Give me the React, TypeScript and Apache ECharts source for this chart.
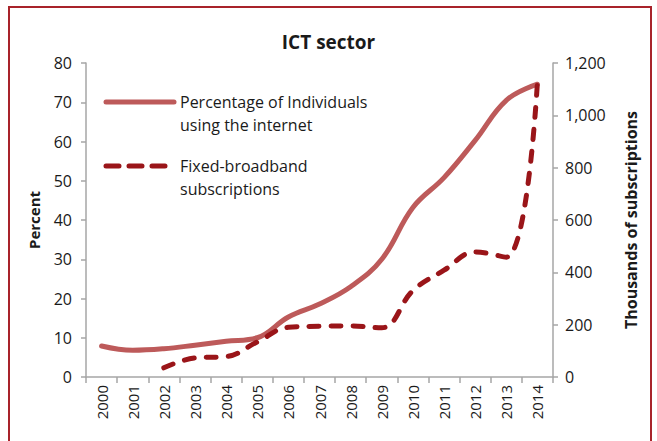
import React, { useEffect, useRef } from "react";
import * as echarts from "echarts";

const years = ["2000", "2001", "2002", "2003", "2004", "2005", "2006", "2007", "2008", "2009", "2010", "2011", "2012", "2013", "2014"];
const internetPct = [7.9, 6.8, 7.2, 8.1, 9.1, 10.0, 15.3, 18.6, 23.0, 30.0, 43.2, 50.8, 60.3, 70.5, 74.6];
const broadbandK = [null, null, 35, 73, 78, 134, 190, 194, 195, 188, 330, 408, 478, 458, 1127];
const seriesNames = ["Percentage of Individuals\nusing the internet", "Fixed-broadband\nsubscriptions"];
const titleText = "ICT sector";
const leftAxisName = "Percent";
const rightAxisName = "Thousands of subscriptions";

const FONT = "'Open Sans', Lato, sans-serif";
const SOLID = "#bd5a5a";
const DASH = "#9a1519";
const AXIS = "#a6a6a6";
const TEXT = "#1a1a1a";

export default function App() {
  const ref = useRef<HTMLDivElement>(null);
  useEffect(() => {
    document.body.style.margin = "0";
    const chart = echarts.init(ref.current!, null, { renderer: "svg" });
    const axisCommon = {
      axisLine: { show: true, lineStyle: { color: AXIS, width: 1.5 } },
      axisTick: { show: true, length: 5, lineStyle: { color: AXIS, width: 1.5 } },
      splitLine: { show: false },
    };
    chart.setOption({
      animation: false,
      backgroundColor: "#fff",
      title: {
        text: titleText,
        left: "center",
        top: 27,
        textStyle: { fontFamily: FONT, fontSize: 19, fontWeight: "bold", color: TEXT },
      },
      grid: { left: 86, right: 104, top: 63, bottom: 64 },
      xAxis: {
        type: "category",
        data: years,
        boundaryGap: true,
        ...axisCommon,
        axisTick: { show: true, length: 6, alignWithLabel: false, lineStyle: { color: AXIS, width: 1.5 } },
        axisLabel: { rotate: 90, margin: 8, fontFamily: FONT, fontSize: 15, color: TEXT },
      },
      yAxis: [
        {
          type: "value",
          min: 0,
          max: 80,
          interval: 10,
          position: "left",
          name: leftAxisName,
          nameLocation: "middle",
          nameRotate: 90,
          nameGap: 45,
          nameTextStyle: { fontFamily: FONT, fontSize: 15, fontWeight: "bold", color: TEXT },
          ...axisCommon,
          axisLabel: { margin: 14, fontFamily: FONT, fontSize: 16, color: TEXT },
        },
        {
          type: "value",
          min: 0,
          max: 1200,
          interval: 200,
          position: "right",
          name: rightAxisName,
          nameLocation: "middle",
          nameRotate: 90,
          nameGap: 70,
          nameTextStyle: { fontFamily: FONT, fontSize: 16, fontWeight: "bold", color: TEXT },
          ...axisCommon,
          axisLabel: {
            margin: 12,
            fontFamily: FONT,
            fontSize: 16,
            color: TEXT,
            formatter: (v: number) => v.toLocaleString("en-US"),
          },
        },
      ],
      series: [
        {
          name: seriesNames[0],
          type: "line",
          yAxisIndex: 0,
          data: internetPct,
          smooth: 0.4,
          symbol: "none",
          lineStyle: { color: SOLID, width: 5, cap: "round", join: "round" },
          z: 2,
        },
        {
          name: seriesNames[1],
          type: "line",
          yAxisIndex: 1,
          data: broadbandK,
          smooth: 0.4,
          symbol: "none",
          connectNulls: false,
          lineStyle: { color: DASH, width: 5, type: [10, 12], cap: "round", join: "round" },
          z: 3,
        },
      ],
      graphic: [
        {
          type: "rect",
          shape: { x: 9, y: 7, width: 642, height: 460 },
          style: { fill: "none", stroke: "#a8232a", lineWidth: 2 },
          silent: true,
        },
        {
          type: "line",
          shape: { x1: 106, y1: 102, x2: 174, y2: 102 },
          style: { stroke: SOLID, lineWidth: 5, lineCap: "round" },
        },
        {
          type: "text",
          x: 180,
          y: 90,
          style: { text: seriesNames[0], font: `16px ${FONT}`, fill: TEXT, lineHeight: 23, verticalAlign: "top" },
        },
        {
          type: "line",
          shape: { x1: 106, y1: 166, x2: 170, y2: 166 },
          style: { stroke: DASH, lineWidth: 5, lineCap: "round", lineDash: [13, 10] },
        },
        {
          type: "text",
          x: 180,
          y: 154,
          style: { text: seriesNames[1], font: `16px ${FONT}`, fill: TEXT, lineHeight: 23, verticalAlign: "top" },
        },
      ],
    });
    return () => chart.dispose();
  }, []);
  return <div ref={ref} style={{ width: 657, height: 441 }} />;
}
